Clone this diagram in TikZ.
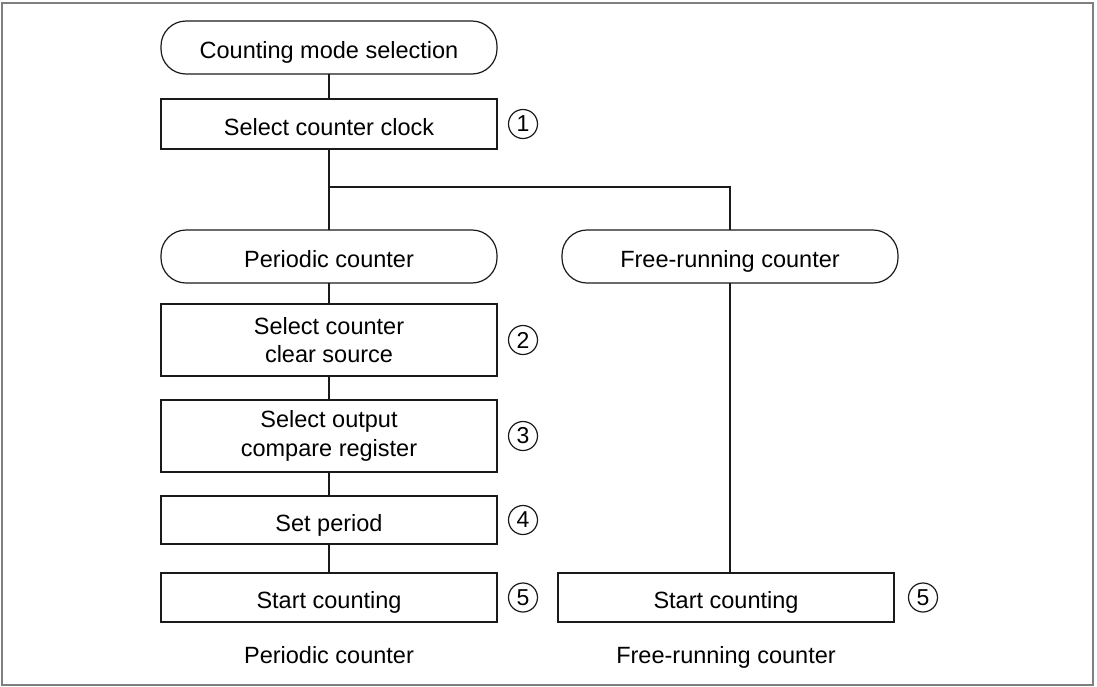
\documentclass[tikz,border=0pt]{standalone}
\usepackage{fontspec}
\setmainfont{Liberation Sans}
\usepackage{tikz}
\usetikzlibrary{positioning}
\definecolor{ink}{HTML}{1A1A1A}
\definecolor{framegray}{HTML}{7F7F7F}
\tikzset{
  stepbox/.style ={draw=ink, line width=1.2pt, minimum width=336pt,
                   align=center, inner sep=0pt, outer sep=0pt,
                   font=\fontsize{23.5}{28.5}\selectfont},
  oneline/.style ={text height=22pt, text depth=0pt},
  termbox/.style ={stepbox, oneline, rounded corners=25pt, minimum height=53pt},
  flowline/.style={draw=ink, line width=1.2pt},
  markno/.style  ={circle, draw=ink, line width=1.2pt, minimum size=29pt,
                   inner sep=0pt, font=\fontsize{23}{23}\selectfont},
  caption/.style ={font=\fontsize{23.5}{28.5}\selectfont,
                   text height=17pt, text depth=0pt, inner sep=0pt}
}

\begin{document}
\begin{tikzpicture}
  \useasboundingbox (0,0) rectangle (1097pt,-686pt);
  \draw[framegray, line width=1.5pt] (2pt,-3pt) rectangle (1093pt,-685pt);

  \node[termbox] (mode) at (329pt,-47.5pt) {Counting mode selection};
  \node[stepbox, oneline, minimum height=50pt, below=25pt of mode] (clock) {Select counter clock};
  \node[termbox, below=81pt of clock]                         (periodic) {Periodic counter};
  \node[termbox, right=65pt of periodic]                      (free)     {Free-running counter};
  \node[stepbox, minimum height=72pt, below=21pt of periodic] (clear)    {Select counter\\clear source};
  \node[stepbox, minimum height=72pt, below=24pt of clear]    (compare)  {Select output\\compare register};
  \node[stepbox, oneline, minimum height=48pt, below=24pt of compare] (period) {Set period};
  \node[stepbox, oneline, minimum height=49pt, below=29pt of period]  (startp) {Start counting};
  \node[stepbox, oneline, minimum height=49pt] (startf) at ([xshift=-4pt]startp -| free) {Start counting};

  % step numbers
  \node[markno] (m1) at ([xshift=26pt]clock.east)   {1};
  \node[markno] (m2) at ([xshift=26pt]clear.east)   {2};
  \node[markno] (m3) at ([xshift=26pt]compare.east) {3};
  \node[markno] (m4) at ([xshift=26pt]period.east)  {4};
  \node[markno] (m5) at ([xshift=26pt]startp.east)  {5};
  \node[markno] (m6) at ([xshift=29pt]startf.east)  {5};

  \node[caption] (capp) at ([yshift=-33pt]startp.south) {Periodic counter};
  \node[caption] (capf) at ([yshift=-33pt]startf.south) {Free-running counter};

  \coordinate (split) at ([yshift=-38pt]clock.south);
  \draw[flowline] (mode)     -- (clock);
  \draw[flowline] (clock)    -- (periodic);
  \draw[flowline] (split)    -| (free);
  \draw[flowline] (periodic) -- (clear);
  \draw[flowline] (clear)    -- (compare);
  \draw[flowline] (compare)  -- (period);
  \draw[flowline] (period)   -- (startp);
  \draw[flowline] (free.south) -- (free.south |- startf.north);
\end{tikzpicture}
\end{document}
